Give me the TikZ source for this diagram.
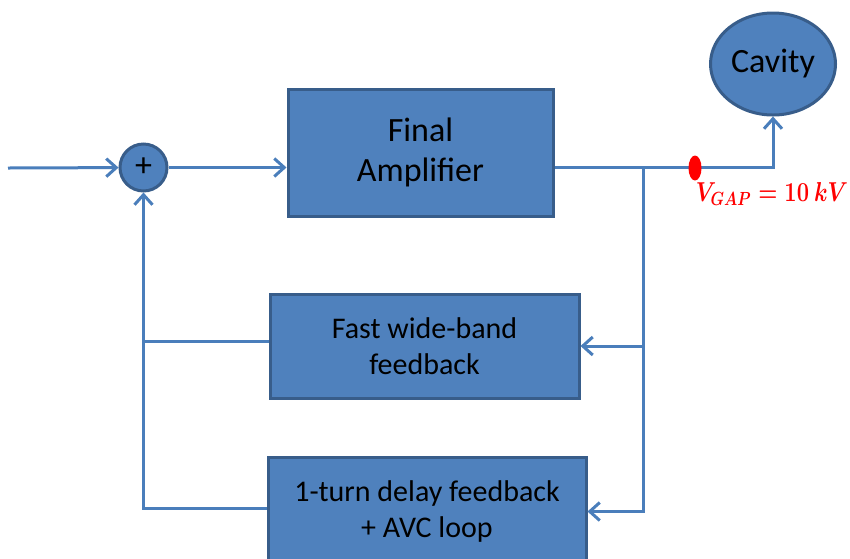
\documentclass[tikz,border=0pt]{standalone}
\usepackage{amsmath}
\usepackage{graphicx}
\usepackage{fontspec}
\setmainfont{Carlito}
\usetikzlibrary{arrows.meta,shapes.geometric}
\definecolor{boxfill}{HTML}{4F81BD}
\definecolor{boxline}{HTML}{385D8A}
\definecolor{wirecolor}{HTML}{4A7EBB}
\definecolor{gapred}{HTML}{FF0000}
\newcommand{\wirewidth}{3pt}
\newcommand{\bigtext}{\fontsize{34}{40}\selectfont}
\newcommand{\smalltext}{\fontsize{30}{36}\selectfont}
\newcommand{\gaptext}{\fontsize{25}{30}\selectfont}

\tikzset{
  block/.style={draw=boxline, fill=boxfill, line width=3pt, align=center, inner sep=0pt},
  wire/.style={draw=wirecolor, line width=\wirewidth},
  arr/.style={wire, -{Straight Barb[length=10pt,width=18pt]}}
}

\begin{document}
\begin{tikzpicture}[x=1pt,y=-1pt]
\useasboundingbox (0,0) rectangle (850,558);
\node[block, circle, minimum size=47, font=\bigtext] (sum) at (143.5,167.5) {+};
\node[block, minimum width=265, minimum height=127, font=\bigtext] (amp) at (420.5,152.5) {Final\\Amplifier};
\node[block, ellipse, minimum width=125, minimum height=102, font=\bigtext] (cav) at (773,64) {Cavity};
\node[block, minimum width=309, minimum height=104, font=\smalltext] (fast) at (424.5,346) {Fast wide-band\\feedback};
\node[block, minimum width=318, minimum height=109, font=\smalltext] (turn) at (427,511.5) {1-turn delay feedback\\+ AVC loop};
\coordinate (in) at (8,168);
\coordinate (split) at (643,167);
%forward path
\draw[arr] (in) -- (sum);
\draw[arr] (sum) -- (amp.west |- sum);
\draw[arr] (amp.east |- split) -| (cav.south);
%feedback
\draw[arr] (split) |- (fast.east);
\draw[arr] (split) |- (turn.east);
\draw[arr] ([yshift=3]turn.west) -| (sum.south);
\draw[wire] ([yshift=5]fast.west) -- ([yshift=5]fast.west -| sum);
%gap voltage
\node[ellipse, fill=gapred, minimum width=13, minimum height=25, inner sep=0pt] (gap) at (695,168) {};
\node[text=gapred, inner sep=0pt, font=\gaptext] (vgap) at (772,194) {\scalebox{0.88}[1.1]{$\boldsymbol{V_{GAP} = 10\ kV}$}};
\end{tikzpicture}
\end{document}
